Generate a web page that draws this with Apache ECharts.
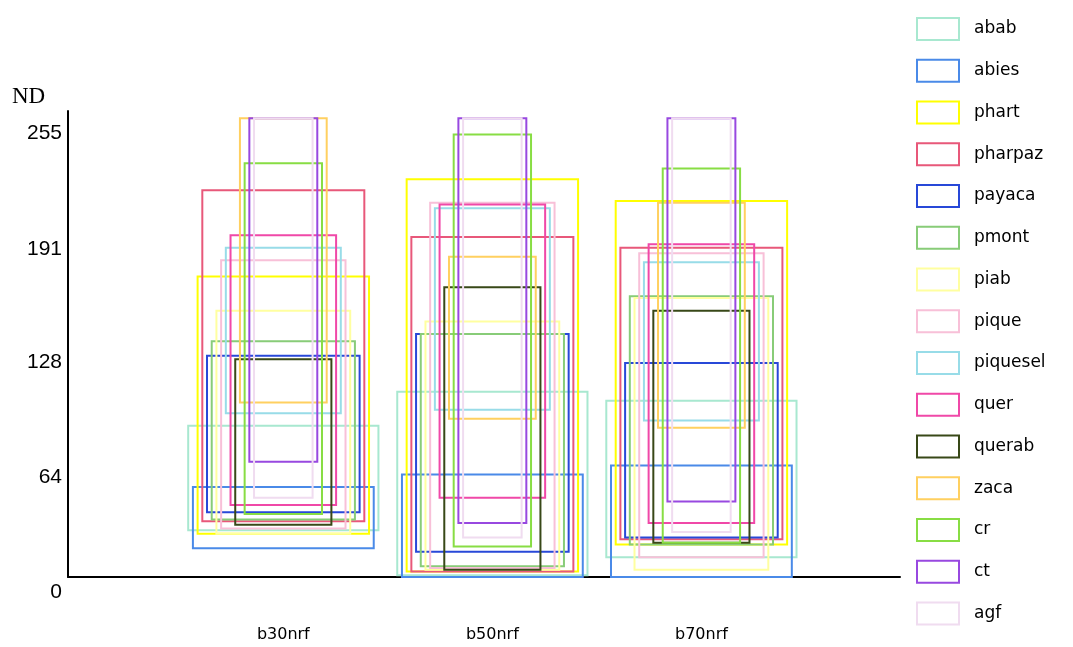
<!DOCTYPE html>
<html>
<head>
<meta charset="utf-8">
<script src="https://cdn.jsdelivr.net/npm/echarts@6/dist/echarts.min.js"></script>
<style>html,body{margin:0;padding:0;background:#fff;}#c{width:1073px;height:647px;}</style>
</head>
<body>
<div id="c"></div>
<script>
const categories = ['b30nrf', 'b50nrf', 'b70nrf'];
const classes = ['abab','abies','phart','pharpaz','payaca','pmont','piab','pique','piquesel','quer','querab','zaca','cr','ct','agf'];
const yTicks = [0, 64, 128, 191, 255];
// minimum / maximum ND per class, per band
const lowB30  = [26, 16, 24, 31, 36, 32, 24, 27, 91, 40, 29, 97, 35, 64, 44];
const highB30 = [84, 50, 167, 215, 123, 131, 148, 176, 183, 190, 121, 255, 230, 255, 255];
const lowB50  = [1, 0, 3, 3, 14, 6, 4, 5, 93, 44, 4, 88, 17, 30, 22];
const highB50 = [103, 57, 221, 189, 135, 135, 142, 208, 205, 207, 161, 178, 246, 255, 255];
const lowB70  = [11, 0, 18, 21, 22, 18, 4, 11, 87, 30, 19, 83, 19, 42, 25];
const highB70 = [98, 62, 209, 183, 119, 156, 155, 180, 175, 185, 148, 208, 227, 255, 255];

const colors = ['#a8e8d0','#4a8ae8','#ffff00','#e8587a','#2848d8','#88cc78','#ffffa0','#f8c0d8','#98dce8','#f048a8','#384818','#ffd060','#88dd44','#9848e0','#f0dcf0'];

const lows = [lowB30, lowB50, lowB70];
const highs = [highB30, highB50, highB70];

const series = classes.map((name, ci) => ({
  type: 'custom',
  name: name,
  itemStyle: { color: colors[ci] },
  data: categories.map((c, bi) => [bi + 1, lows[bi][ci], highs[bi][ci]]),
  renderItem: function (params, api) {
    const x = api.value(0), lo = api.value(1), hi = api.value(2);
    const w = 0.91 - 0.045 * ci;
    const p1 = api.coord([x - w / 2, hi]);
    const p2 = api.coord([x + w / 2, lo]);
    return {
      type: 'rect',
      shape: { x: p1[0], y: p1[1], width: p2[0] - p1[0], height: p2[1] - p1[1] },
      style: { fill: null, stroke: colors[ci], lineWidth: 2 }
    };
  }
}));

const chart = echarts.init(document.getElementById('c'), null, { renderer: 'canvas' });
chart.setOption({
  animation: false,
  backgroundColor: '#ffffff',
  title: {
    text: 'ND', left: 7, top: 80,
    textStyle: { fontFamily: 'Liberation Serif', fontWeight: 'normal', fontSize: 23, color: '#000' }
  },
  grid: { left: 68, right: 173, top: 111, bottom: 70, containLabel: false },
  legend: {
    orient: 'vertical', left: 916, top: 17, bottom: 0, padding: 0,
    itemWidth: 42, itemHeight: 22, itemGap: 17.75,
    textStyle: { fontFamily: 'DejaVu Sans', fontSize: 17, color: '#000', padding: [0, 0, 0, 10] },
    data: classes.map((n, i) => ({
      name: n, icon: 'rect',
      itemStyle: { color: '#ffffff', borderColor: colors[i], borderWidth: 2 }
    }))
  },
  xAxis: {
    type: 'value', min: -0.03, max: 3.95,
    axisLine: { show: true, onZero: false, lineStyle: { color: '#000', width: 2 } },
    axisTick: { show: false },
    splitLine: { show: false },
    axisLabel: {
      customValues: [1, 2, 3],
      formatter: v => categories[Math.round(v) - 1],
      margin: 50, fontFamily: 'DejaVu Sans', fontSize: 16, color: '#000'
    }
  },
  yAxis: {
    type: 'value', min: 0, max: 259,
    axisLine: { show: true, onZero: false, lineStyle: { color: '#000', width: 2 } },
    axisTick: { show: false },
    splitLine: { show: false },
    axisLabel: {
      customValues: yTicks,
      verticalAlign: 'top', padding: [5, 0, 0, 0],
      margin: 6, fontFamily: 'Liberation Sans', fontSize: 21, color: '#000'
    }
  },
  series: series
});
</script>
</body>
</html>
